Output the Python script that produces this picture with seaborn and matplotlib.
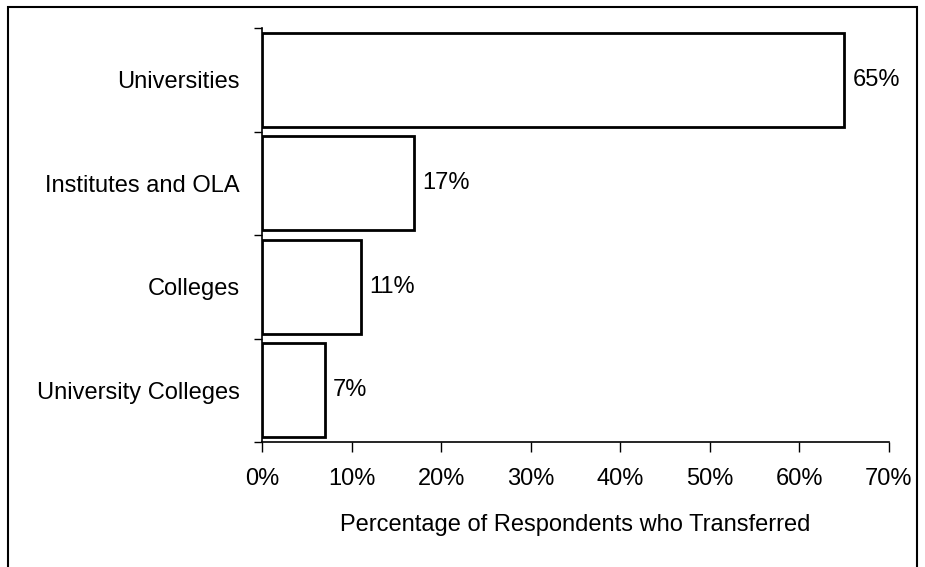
import pandas as pd
import seaborn as sns
import matplotlib.pyplot as plt
from matplotlib.patches import Rectangle
from matplotlib.ticker import PercentFormatter

categories = ['Universities', 'Institutes and OLA', 'Colleges', 'University Colleges']
percentages = [65, 17, 11, 7]
x_ticks = [0, 10, 20, 30, 40, 50, 60, 70]

df = pd.DataFrame({'institution': categories, 'pct': percentages})

sns.set_style('white')
plt.rcParams['font.family'] = ['Liberation Sans', 'DejaVu Sans']
plt.rcParams['font.size'] = 17
for key in ['text.color', 'axes.labelcolor', 'xtick.color', 'ytick.color']:
    plt.rcParams[key] = 'black'

fig = plt.figure(figsize=(9.25, 5.67), dpi=100)
ax = fig.add_axes([262 / 925, 1 - 442 / 567, (889 - 262) / 925, (442 - 28) / 567])

sns.barplot(data=df, x='pct', y='institution', orient='h', color='white',
            edgecolor='black', linewidth=2, width=0.91, ax=ax)

for container in ax.containers:
    ax.bar_label(container, fmt='%d%%', padding=6, fontsize=17, color='black')

ax.set_xlim(0, 70)
ax.set_ylim(3.5, -0.5)
ax.set_xticks(x_ticks)
ax.xaxis.set_major_formatter(PercentFormatter(decimals=0))
ax.set_yticks([-0.5, 0.5, 1.5, 2.5, 3.5], minor=False)
ax.set_yticklabels([])
ax.set_yticks(range(len(categories)), minor=True)
ax.set_yticklabels(categories, minor=True)
ax.tick_params(axis='y', which='major', left=True, length=6, width=1, direction='out')
ax.tick_params(axis='y', which='minor', left=False, length=0, pad=16, labelsize=17)
ax.tick_params(axis='x', bottom=True, length=7, width=1, direction='out', pad=12, labelsize=17)

ax.set_xlabel('Percentage of Respondents who Transferred', fontsize=17, labelpad=17)
ax.set_ylabel('')

for side in ['top', 'right']:
    ax.spines[side].set_visible(False)
for side in ['left', 'bottom']:
    ax.spines[side].set_color('black')
    ax.spines[side].set_linewidth(1.2)

# outer frame around the chart area
fig.patches.append(Rectangle((8 / 925, -0.1), (917 - 8) / 925, 1.1 - 7 / 567,
                             transform=fig.transFigure, fill=False,
                             edgecolor='black', linewidth=1.5, clip_on=False))

fig.savefig('out.png', dpi=100)
